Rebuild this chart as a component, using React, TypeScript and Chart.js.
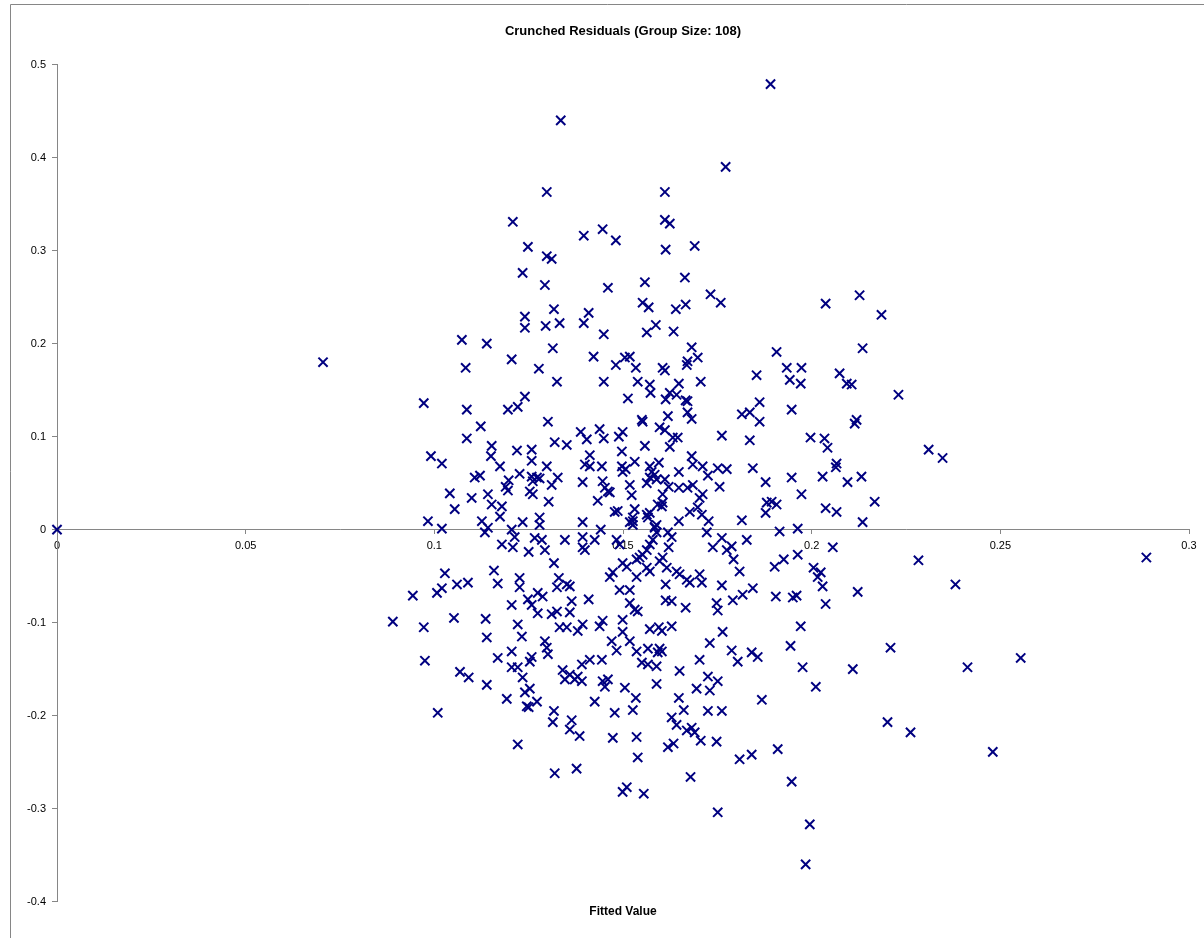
import React, { useEffect, useRef } from 'react';
import { Chart, registerables } from 'chart.js';

Chart.register(...registerables);

const chartTitle = 'Crunched Residuals (Group Size: 108)';
const xAxisTitle = 'Fitted Value';
const xTickValues = [0, 0.05, 0.1, 0.15, 0.2, 0.25, 0.3];
const yTickValues = [-0.4, -0.3, -0.2, -0.1, 0, 0.1, 0.2, 0.3, 0.4, 0.5];
const markerColor = '#000080';
const axisColor = '#868686';

// [fitted value, residual]
const residualPairs: [number, number][] = [
  [0, 0], [0.0705, 0.180], [0.2554, -0.138], [0.2887, -0.030],
  [0.1335, 0.440], [0.1298, 0.363], [0.1208, 0.331], [0.1248, 0.304], [0.1298, 0.294], [0.1311, 0.291],
  [0.1234, 0.276], [0.1293, 0.263], [0.1396, 0.316], [0.1891, 0.479], [0.1772, 0.390], [0.1611, 0.363],
  [0.1611, 0.333], [0.1624, 0.329], [0.1446, 0.323], [0.1481, 0.311], [0.1613, 0.301], [0.1690, 0.305],
  [0.1664, 0.271], [0.1558, 0.266], [0.1460, 0.260], [0.1317, 0.237], [0.1240, 0.229], [0.1240, 0.217],
  [0.1295, 0.219], [0.1332, 0.222], [0.1073, 0.204], [0.1139, 0.200], [0.1314, 0.195], [0.1205, 0.183],
  [0.1083, 0.174], [0.1277, 0.173], [0.1325, 0.159], [0.1240, 0.143], [0.1221, 0.132], [0.1195, 0.129],
  [0.0972, 0.136], [0.1086, 0.129], [0.1123, 0.111], [0.1301, 0.116], [0.1086, 0.098], [0.1388, 0.105],
  [0.1152, 0.090], [0.1319, 0.094], [0.1351, 0.091], [0.1219, 0.085], [0.1258, 0.086], [0.0991, 0.079],
  [0.1020, 0.071], [0.1150, 0.079], [0.1174, 0.068], [0.1258, 0.074], [0.1298, 0.068], [0.1226, 0.060],
  [0.1107, 0.056], [0.1121, 0.058], [0.1197, 0.053], [0.1258, 0.057], [0.1272, 0.056], [0.1279, 0.055],
  [0.1261, 0.052], [0.1327, 0.056], [0.1311, 0.048], [0.1393, 0.051], [0.1189, 0.046], [0.1195, 0.042],
  [0.1041, 0.039], [0.1099, 0.034], [0.1142, 0.038], [0.1253, 0.041], [0.1261, 0.038], [0.1303, 0.030],
  [0.1152, 0.027], [0.1179, 0.025], [0.1054, 0.022], [0.1174, 0.014], [0.1126, 0.009], [0.0983, 0.009],
  [0.1020, 0.001], [0.1142, 0.002], [0.1205, 0.000], [0.1234, 0.008], [0.1279, 0.013], [0.1279, 0.005],
  [0.1393, 0.008],
  [0.1732, 0.253], [0.1759, 0.244], [0.1552, 0.244], [0.1568, 0.239], [0.1640, 0.237], [0.1666, 0.242],
  [0.1409, 0.233], [0.1396, 0.222], [0.1587, 0.220], [0.1563, 0.212], [0.1634, 0.213], [0.1449, 0.210],
  [0.1422, 0.186], [0.1682, 0.196], [0.1907, 0.191], [0.1505, 0.185], [0.1518, 0.186], [0.1481, 0.177],
  [0.1534, 0.174], [0.1605, 0.174], [0.1611, 0.171], [0.1671, 0.181], [0.1669, 0.177], [0.1698, 0.185],
  [0.1854, 0.166], [0.1449, 0.159], [0.1539, 0.159], [0.1571, 0.156], [0.1573, 0.147], [0.1648, 0.157],
  [0.1706, 0.159], [0.1624, 0.147], [0.1642, 0.145], [0.1513, 0.141], [0.1613, 0.140], [0.1666, 0.139],
  [0.1671, 0.138], [0.1862, 0.137], [0.1671, 0.126], [0.1682, 0.119], [0.1815, 0.124], [0.1836, 0.126],
  [0.1862, 0.116], [0.1619, 0.122], [0.1550, 0.118], [0.1552, 0.116], [0.1404, 0.097], [0.1438, 0.108],
  [0.1449, 0.098], [0.1489, 0.100], [0.1499, 0.105], [0.1597, 0.110], [0.1611, 0.107], [0.1632, 0.099],
  [0.1645, 0.099], [0.1624, 0.089], [0.1558, 0.090], [0.1762, 0.101], [0.1836, 0.096], [0.1497, 0.084],
  [0.1412, 0.080], [0.1399, 0.070], [0.1412, 0.068], [0.1444, 0.068], [0.1497, 0.068], [0.1507, 0.065],
  [0.1499, 0.062], [0.1531, 0.073], [0.1571, 0.068], [0.1576, 0.062], [0.1595, 0.072], [0.1648, 0.062],
  [0.1682, 0.079], [0.1685, 0.070], [0.1711, 0.068], [0.1725, 0.058], [0.1751, 0.066], [0.1775, 0.065],
  [0.1844, 0.066], [0.1446, 0.052], [0.1452, 0.045], [0.1460, 0.041], [0.1465, 0.040], [0.1518, 0.048],
  [0.1523, 0.037], [0.1563, 0.050], [0.1571, 0.056], [0.1584, 0.059], [0.1589, 0.054], [0.1611, 0.054],
  [0.1621, 0.046], [0.1648, 0.045], [0.1671, 0.045], [0.1685, 0.048], [0.1756, 0.046], [0.1878, 0.051],
  [0.1433, 0.031], [0.1605, 0.038], [0.1605, 0.029], [0.1703, 0.034], [0.1711, 0.038], [0.1881, 0.029],
  [0.1894, 0.030], [0.1878, 0.018], [0.1907, 0.027], [0.1478, 0.019], [0.1486, 0.020], [0.1531, 0.022],
  [0.1526, 0.013], [0.1563, 0.016], [0.1571, 0.018], [0.1566, 0.013], [0.1592, 0.027], [0.1603, 0.025],
  [0.1677, 0.019], [0.1698, 0.024], [0.1709, 0.016], [0.1518, 0.008], [0.1526, 0.009], [0.1584, 0.003],
  [0.1589, 0.005], [0.1648, 0.009], [0.1727, 0.009], [0.1815, 0.010], [0.1441, 0.000],
  [0.2037, 0.243], [0.2127, 0.252], [0.2185, 0.231], [0.2135, 0.195], [0.1934, 0.174], [0.1973, 0.174],
  [0.1942, 0.161], [0.1971, 0.157], [0.2074, 0.168], [0.2093, 0.157], [0.2106, 0.156], [0.2230, 0.145],
  [0.1947, 0.129], [0.2119, 0.118], [0.2114, 0.114], [0.1997, 0.099], [0.2034, 0.098], [0.2042, 0.088],
  [0.2310, 0.086], [0.2347, 0.077], [0.2066, 0.071], [0.2064, 0.067], [0.1947, 0.056], [0.2029, 0.057],
  [0.2095, 0.051], [0.2132, 0.057], [0.1973, 0.038], [0.2037, 0.023], [0.2066, 0.019], [0.2167, 0.030],
  [0.2135, 0.008], [0.1963, 0.001], [0.1915, -0.002],
  [0.1134, -0.003], [0.1213, -0.008], [0.1266, -0.009], [0.1285, -0.011], [0.1208, -0.019], [0.1179, -0.016],
  [0.1250, -0.024], [0.1293, -0.022], [0.1346, -0.011], [0.1317, -0.036], [0.1028, -0.047], [0.1158, -0.044],
  [0.1226, -0.052], [0.1330, -0.052], [0.1168, -0.058], [0.1060, -0.059], [0.1089, -0.057], [0.1007, -0.068],
  [0.1020, -0.063], [0.0943, -0.071], [0.1226, -0.062], [0.1325, -0.062], [0.1351, -0.059], [0.1359, -0.061],
  [0.1248, -0.075], [0.1258, -0.081], [0.1274, -0.068], [0.1287, -0.072], [0.1205, -0.081], [0.1364, -0.077],
  [0.1325, -0.088], [0.1311, -0.091], [0.1274, -0.090], [0.1359, -0.089], [0.0890, -0.099], [0.0972, -0.105],
  [0.1052, -0.095], [0.1136, -0.096], [0.1221, -0.102], [0.1232, -0.115], [0.1139, -0.116], [0.1332, -0.105],
  [0.1351, -0.105], [0.1380, -0.109], [0.1293, -0.120], [0.1298, -0.127], [0.1301, -0.134], [0.1205, -0.131],
  [0.1168, -0.138], [0.1258, -0.137], [0.1253, -0.142], [0.1205, -0.148], [0.1221, -0.148], [0.0975, -0.141],
  [0.1068, -0.153], [0.1091, -0.159], [0.1234, -0.159], [0.1340, -0.151], [0.1346, -0.161], [0.1359, -0.156],
  [0.1372, -0.161], [0.1380, -0.158], [0.1391, -0.163], [0.1391, -0.145], [0.1139, -0.167], [0.1240, -0.175],
  [0.1253, -0.171], [0.1192, -0.182], [0.1272, -0.185], [0.1245, -0.190], [0.1250, -0.191], [0.1009, -0.197],
  [0.1317, -0.195], [0.1314, -0.207], [0.1364, -0.205], [0.1359, -0.215], [0.1385, -0.222], [0.1221, -0.231],
  [0.1393, -0.008], [0.1393, -0.019], [0.1399, -0.022], [0.1425, -0.011], [0.1483, -0.011], [0.1491, -0.016],
  [0.1526, 0.005], [0.1584, 0.002], [0.1589, -0.003], [0.1579, -0.011], [0.1571, -0.016], [0.1563, -0.022],
  [0.1552, -0.027], [0.1544, -0.030], [0.1536, -0.032], [0.1619, -0.003], [0.1629, -0.008], [0.1621, -0.019],
  [0.1605, -0.030], [0.1616, -0.041], [0.1642, -0.045], [0.1650, -0.048], [0.1669, -0.054], [0.1677, -0.057],
  [0.1722, -0.003], [0.1738, -0.019], [0.1762, -0.009], [0.1775, -0.022], [0.1788, -0.018], [0.1793, -0.032],
  [0.1828, -0.011], [0.1809, -0.045], [0.1902, -0.040], [0.1499, -0.036], [0.1510, -0.040], [0.1465, -0.051],
  [0.1473, -0.046], [0.1536, -0.051], [0.1563, -0.041], [0.1571, -0.045], [0.1597, -0.034], [0.1703, -0.048],
  [0.1709, -0.057], [0.1613, -0.059], [0.1762, -0.060], [0.1491, -0.065], [0.1518, -0.065], [0.1817, -0.070],
  [0.1844, -0.063], [0.1905, -0.072], [0.1409, -0.075], [0.1518, -0.079], [0.1531, -0.086], [0.1539, -0.088],
  [0.1613, -0.076], [0.1629, -0.077], [0.1666, -0.084], [0.1748, -0.079], [0.1751, -0.087], [0.1791, -0.076],
  [0.1393, -0.102], [0.1438, -0.104], [0.1446, -0.098], [0.1499, -0.097], [0.1499, -0.110], [0.1571, -0.107],
  [0.1595, -0.105], [0.1603, -0.109], [0.1629, -0.104], [0.1764, -0.110], [0.1470, -0.120], [0.1483, -0.130],
  [0.1518, -0.120], [0.1536, -0.131], [0.1566, -0.128], [0.1597, -0.128], [0.1603, -0.131], [0.1592, -0.132],
  [0.1730, -0.122], [0.1788, -0.130], [0.1841, -0.132], [0.1857, -0.137], [0.1804, -0.142], [0.1703, -0.140],
  [0.1412, -0.140], [0.1444, -0.140], [0.1550, -0.143], [0.1566, -0.145], [0.1589, -0.147], [0.1650, -0.152],
  [0.1725, -0.158], [0.1751, -0.163], [0.1730, -0.173], [0.1446, -0.163], [0.1452, -0.169], [0.1460, -0.161],
  [0.1505, -0.170], [0.1589, -0.166], [0.1695, -0.171], [0.1534, -0.181], [0.1425, -0.185], [0.1648, -0.181],
  [0.1868, -0.183], [0.1526, -0.194], [0.1478, -0.197], [0.1661, -0.194], [0.1725, -0.195], [0.1762, -0.195],
  [0.1629, -0.202], [0.1642, -0.210], [0.1669, -0.216], [0.1682, -0.213], [0.1690, -0.218], [0.1536, -0.223],
  [0.1473, -0.224], [0.1748, -0.228],
  [0.2056, -0.019], [0.1926, -0.032], [0.1963, -0.027], [0.2005, -0.041], [0.2024, -0.046], [0.2016, -0.051],
  [0.2029, -0.061], [0.2122, -0.067], [0.2283, -0.033], [0.2381, -0.059], [0.1950, -0.073], [0.1960, -0.071],
  [0.2037, -0.080], [0.1971, -0.104], [0.1944, -0.125], [0.2209, -0.127], [0.1976, -0.148], [0.2109, -0.150],
  [0.2413, -0.148], [0.2011, -0.169], [0.2201, -0.207], [0.2262, -0.218],
  [0.1319, -0.262], [0.1377, -0.257], [0.1619, -0.234], [0.1634, -0.230], [0.1706, -0.227], [0.1539, -0.245],
  [0.1809, -0.247], [0.1841, -0.242], [0.1910, -0.236], [0.1679, -0.266], [0.1499, -0.282], [0.1510, -0.277],
  [0.1555, -0.284], [0.1751, -0.304], [0.2480, -0.239], [0.1947, -0.271], [0.1995, -0.317], [0.1984, -0.360],
];

const fontFamily = '"Liberation Sans", Arial, sans-serif';

const framePlugin = {
  id: 'excelFrame',
  beforeDraw(chart: any) {
    const { ctx, width, height } = chart;
    ctx.save();
    ctx.fillStyle = '#ffffff';
    ctx.fillRect(0, 0, width, height);
    ctx.strokeStyle = axisColor;
    ctx.lineWidth = 1;
    ctx.beginPath();
    ctx.moveTo(10.5, height + 5);
    ctx.lineTo(10.5, 4.5);
    ctx.lineTo(width + 5, 4.5);
    ctx.stroke();
    ctx.restore();
  },
};

export default function App() {
  const canvasRef = useRef<HTMLCanvasElement | null>(null);

  useEffect(() => {
    if (!canvasRef.current) return;
    const chart = new Chart(canvasRef.current, {
      type: 'scatter',
      data: {
        datasets: [
          {
            label: 'Residuals',
            data: residualPairs.map(([x, y]) => ({ x, y })),
            pointStyle: 'crossRot',
            pointRadius: 6.5,
            pointHoverRadius: 6.5,
            borderColor: markerColor,
            backgroundColor: markerColor,
            pointBorderWidth: 2,
            clip: false as any,
          },
        ],
      },
      options: {
        animation: false,
        responsive: false,
        events: [],
        layout: { padding: { left: 10, right: 15, top: 0, bottom: 0 } },
        plugins: {
          legend: { display: false },
          tooltip: { enabled: false },
          title: {
            display: true,
            text: chartTitle,
            fullSize: false,
            color: '#000000',
            font: { family: fontFamily, size: 13, weight: 'bold' },
            padding: { top: 24, bottom: 25 },
          },
          subtitle: {
            display: true,
            position: 'bottom',
            text: xAxisTitle,
            fullSize: false,
            color: '#000000',
            font: { family: fontFamily, size: 12, weight: 'bold' },
            padding: { top: 3, bottom: 19 },
          },
        },
        scales: {
          x: {
            type: 'linear',
            position: { y: 0 } as any,
            min: 0,
            max: 0.3,
            afterBuildTicks: (scale: any) => {
              scale.ticks = xTickValues.map((value) => ({ value }));
            },
            ticks: {
              color: '#000000',
              font: { family: fontFamily, size: 11 },
              padding: 6,
              maxRotation: 0,
              autoSkip: false,
              callback: (v: any) => String(Number(Number(v).toFixed(2))),
            },
            grid: { drawOnChartArea: false, drawTicks: true, tickLength: 4, color: axisColor },
            border: { display: true, color: axisColor, width: 1 },
          },
          y: {
            type: 'linear',
            position: 'left',
            min: -0.4,
            max: 0.5,
            afterBuildTicks: (scale: any) => {
              scale.ticks = yTickValues.map((value) => ({ value }));
            },
            afterFit: (scale: any) => {
              scale.width = 47;
            },
            ticks: {
              color: '#000000',
              font: { family: fontFamily, size: 11 },
              padding: 6,
              autoSkip: false,
              callback: (v: any) => String(Number(Number(v).toFixed(2))),
            },
            grid: { drawOnChartArea: false, drawTicks: true, tickLength: 5, color: axisColor },
            border: { display: true, color: axisColor, width: 1 },
          },
        },
      },
      plugins: [framePlugin],
    } as any);
    return () => chart.destroy();
  }, []);

  return (
    <div style={{ position: 'fixed', left: 0, top: 0, width: 1204, height: 938, background: '#fff' }}>
      <canvas ref={canvasRef} width={1204} height={938} style={{ display: 'block' }} />
    </div>
  );
}
